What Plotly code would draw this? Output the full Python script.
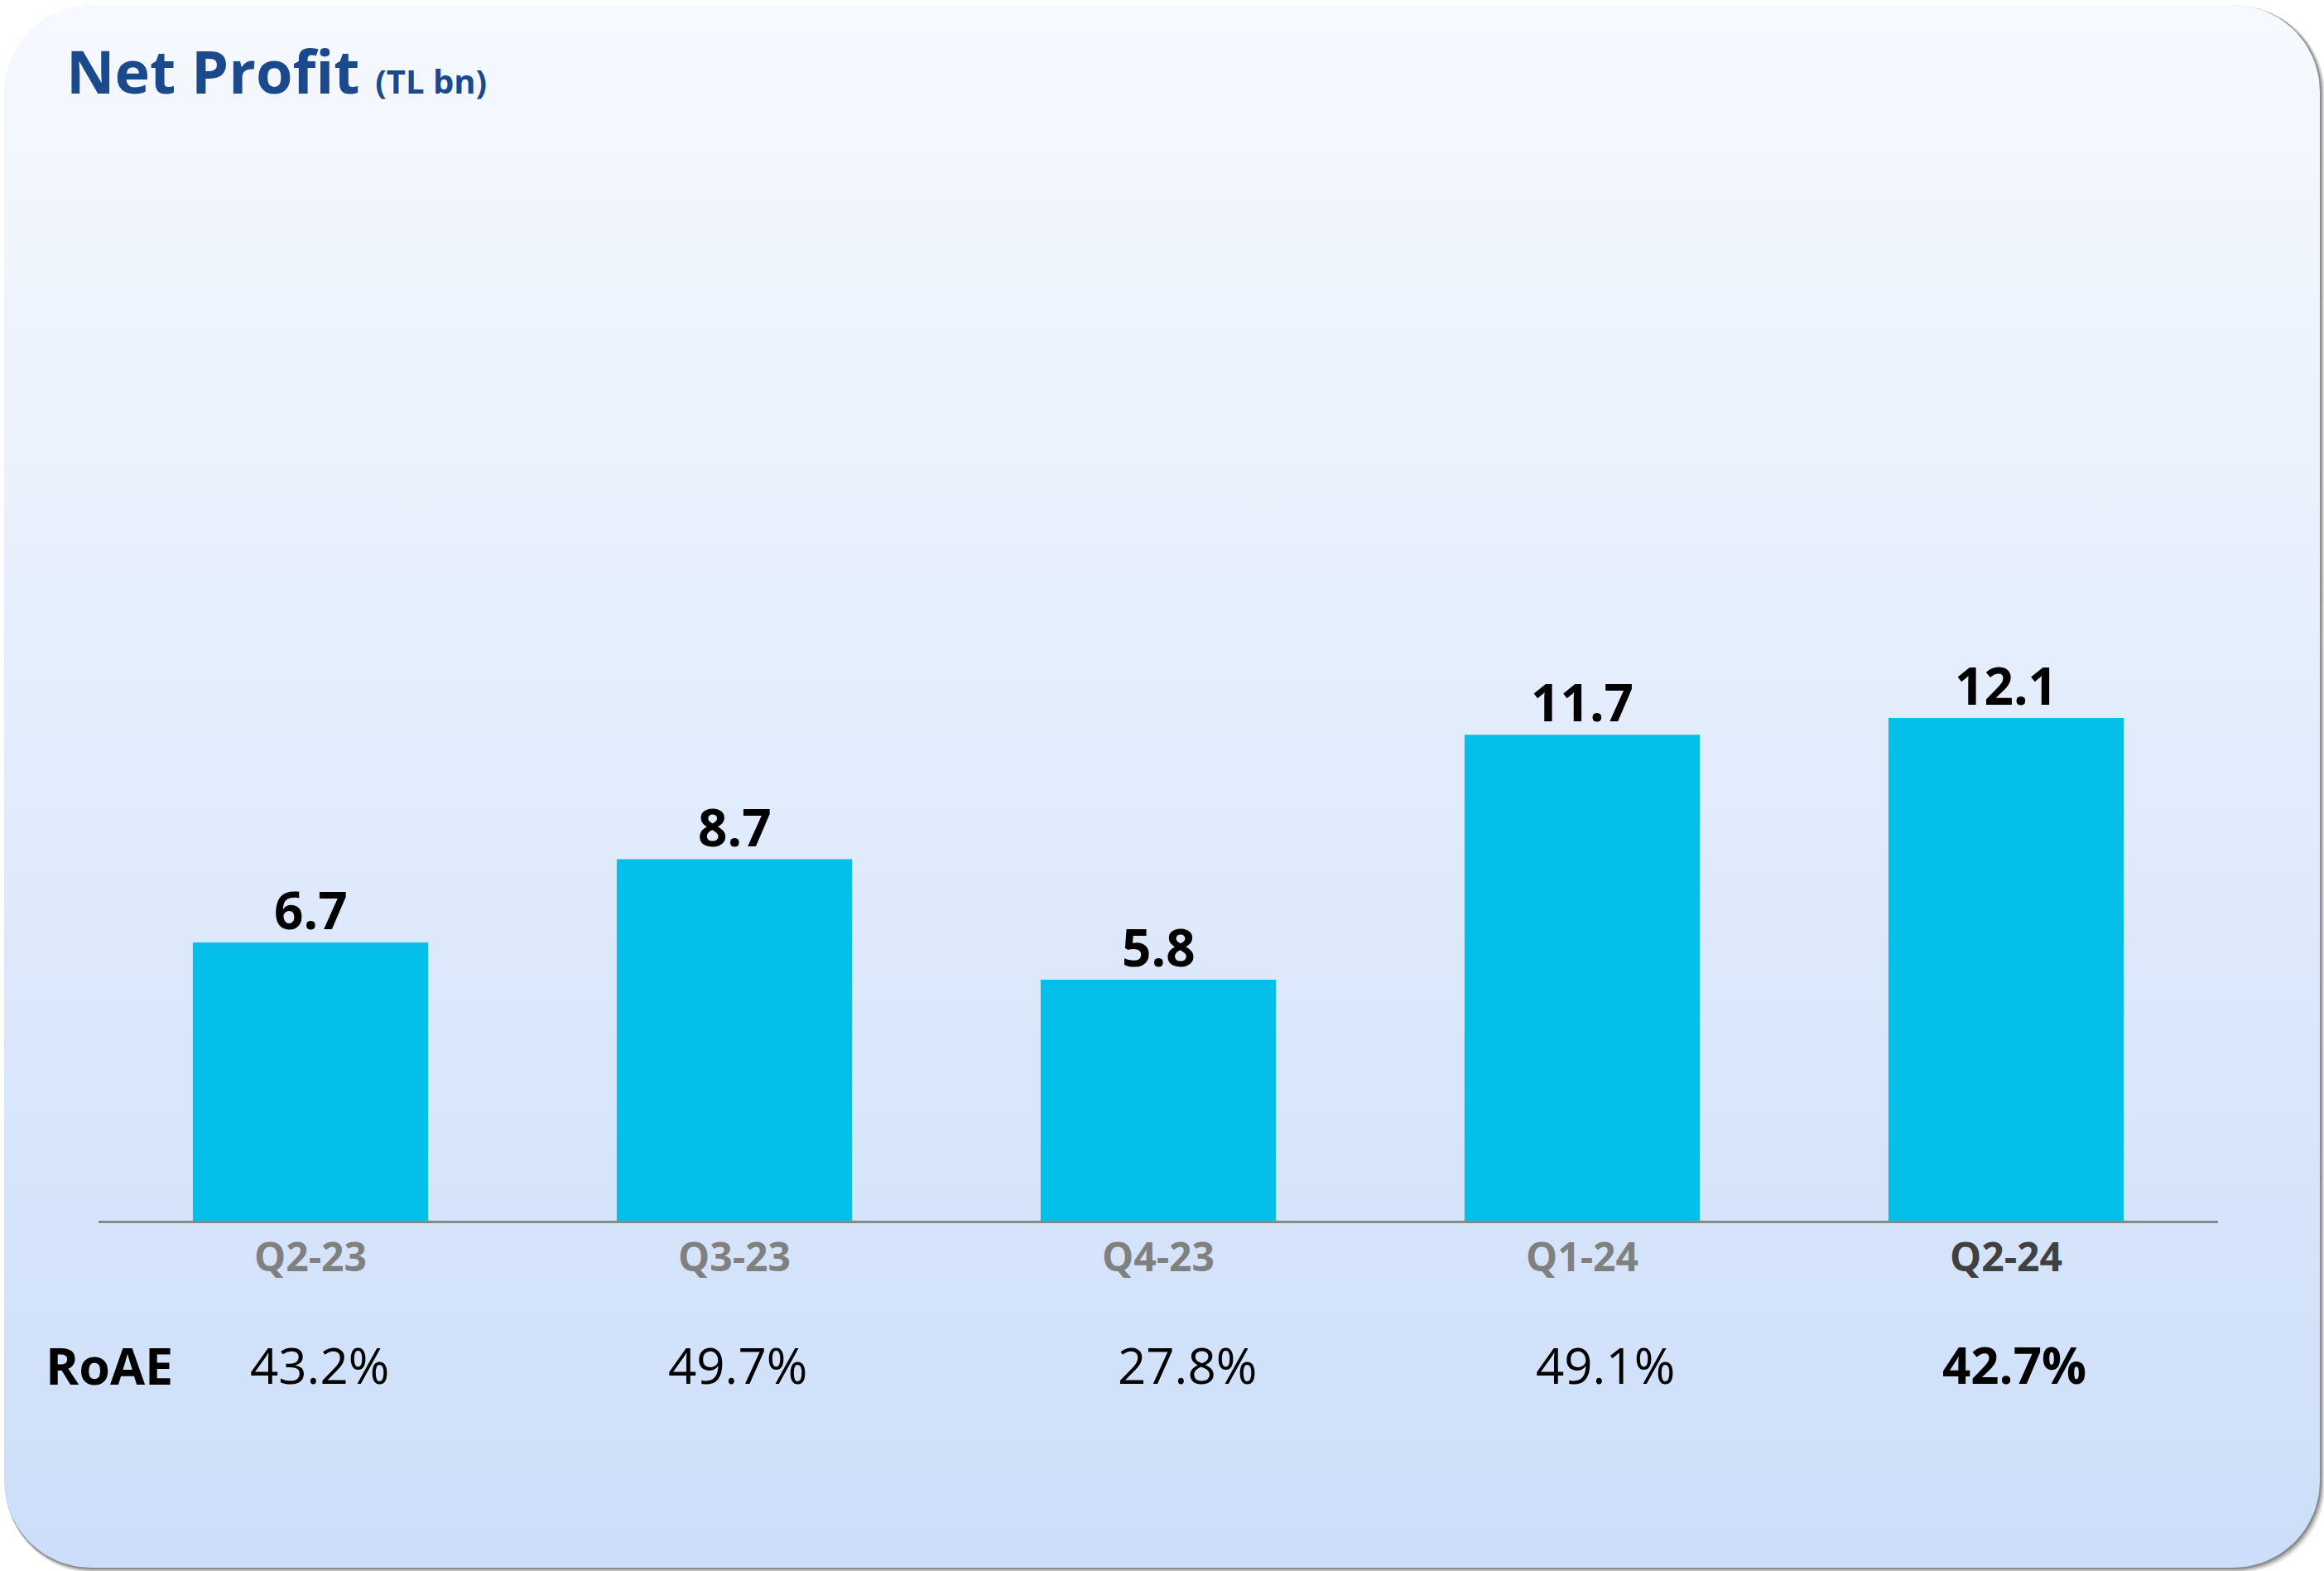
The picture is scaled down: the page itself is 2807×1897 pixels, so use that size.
import numpy as np
import plotly.graph_objects as go

# ---- data ----
quarters = ["Q2-23", "Q3-23", "Q4-23", "Q1-24", "Q2-24"]
net_profit = [6.7, 8.7, 5.8, 11.7, 12.1]
roae = ["43.2%", "49.7%", "27.8%", "49.1%", "42.7%"]
title_main = "Net Profit"
title_unit = "(TL bn)"
row_label = "RoAE"

W, H = 2807, 1897
FONT = "Open Sans"

# ---- card geometry (pixel coords on a background axis) ----
def rounded_rect(x0, y0, x1, y1, r, n=24):
    xs, ys = [], []
    corners = [
        (x1 - r, y0 + r, -np.pi / 2, 0),
        (x1 - r, y1 - r, 0, np.pi / 2),
        (x0 + r, y1 - r, np.pi / 2, np.pi),
        (x0 + r, y0 + r, np.pi, 1.5 * np.pi),
    ]
    for cx, cy, a0, a1 in corners:
        t = np.linspace(a0, a1, n)
        xs.extend(cx + r * np.cos(t))
        ys.extend(cy + r * np.sin(t))
    xs.append(xs[0]); ys.append(ys[0])
    return xs, ys

def path_from(xs, ys):
    return "M " + " L ".join(f"{x:.1f},{y:.1f}" for x, y in zip(xs, ys)) + " Z"

cx0, cy0, cx1, cy1, rad = 5, 6, 2802, 1893, 105

fig = go.Figure()

# card with vertical gradient
card_x, card_y = rounded_rect(cx0, cy0, cx1, cy1, rad)
fig.add_trace(go.Scatter(
    x=card_x, y=card_y, mode="lines", fill="toself",
    line=dict(width=0, color="rgba(0,0,0,0)"),
    fillgradient=dict(type="vertical", start=cy0, stop=cy1,
                      colorscale=[[0, "#F6F9FE"], [1, "#CCDEF9"]]),
    hoverinfo="skip", showlegend=False, xaxis="x", yaxis="y",
))

# shadows
for off, alpha in [(6, 0.10), (4, 0.18), (2, 0.25)]:
    sx, sy = rounded_rect(cx0 + off * 0.3, cy0 + off * 0.3, cx1 + off, cy1 + off, rad)
    fig.add_shape(type="path", path=path_from(sx, sy), xref="x", yref="y",
                  fillcolor=f"rgba(0,0,0,{alpha})", line=dict(width=0), layer="below")

# bars
fig.add_trace(go.Bar(
    x=quarters, y=net_profit, width=0.555,
    marker=dict(color="#05BFEB", line=dict(width=0)),
    hoverinfo="skip", showlegend=False, xaxis="x2", yaxis="y2",
))

# value labels above bars
for q, v in zip(quarters, net_profit):
    fig.add_annotation(
        x=q, y=v, xref="x2", yref="y2", xanchor="center", yanchor="bottom",
        yshift=-4, text=f"<b>{v:.1f}</b>", showarrow=False,
        font=dict(family=FONT, size=62, color="#000000"),
    )

tick_colors = ["#808080", "#808080", "#808080", "#808080", "#404040"]
ticktext = [f"<span style='color:{c}'><b>{q}</b></span>" for q, c in zip(quarters, tick_colors)]

base_px, top_px = 1474, 220
ymax = 25.0

fig.update_layout(
    width=W, height=H,
    margin=dict(l=0, r=0, t=0, b=0),
    paper_bgcolor="#FFFFFF", plot_bgcolor="rgba(0,0,0,0)",
    xaxis=dict(domain=[0, 1], range=[0, W], visible=False, fixedrange=True),
    yaxis=dict(domain=[0, 1], range=[H, 0], visible=False, fixedrange=True),
    xaxis2=dict(domain=[119 / W, 2679 / W], anchor="y2", range=[-0.5, 4.5],
                tickmode="array", tickvals=quarters, ticktext=ticktext,
                tickfont=dict(family=FONT, size=48, color="#808080"),
                showline=True, linecolor="#888888", linewidth=3,
                showgrid=False, zeroline=False, ticks="", ticklabelstandoff=0),
    yaxis2=dict(domain=[(H - base_px) / H, (H - top_px) / H], anchor="x2",
                range=[0, ymax], visible=False, showgrid=False, zeroline=False),
    showlegend=False,
)

# title
fig.add_annotation(
    x=78, y=85, xref="x", yref="y", xanchor="left", yanchor="middle",
    text=f"<b>{title_main}</b> <b><span style='font-size:40px'>{title_unit}</span></b>",
    showarrow=False, font=dict(family=FONT, size=72, color="#1B4A8C"),
)

# RoAE row
fig.add_annotation(
    x=53, y=1648, xref="x", yref="y", xanchor="left", yanchor="middle",
    text=f"<b>{row_label}</b>", showarrow=False,
    font=dict(family=FONT, size=61, color="#000000"),
)
roae_shift = [11, 4, 35, 28, 10]
for i, (q, v) in enumerate(zip(quarters, roae)):
    bold = i == len(roae) - 1
    fig.add_annotation(
        x=q, y=1648, xref="x2", yref="y", xanchor="center", yanchor="middle",
        xshift=roae_shift[i],
        text=f"<b>{v}</b>" if bold else v, showarrow=False,
        font=dict(family=FONT, size=60, color="#000000"),
    )

fig.write_html("out.html",
               config={"displayModeBar": False, "staticPlot": True},
               post_script="document.body.style.margin='0';document.body.style.overflow='hidden';")
